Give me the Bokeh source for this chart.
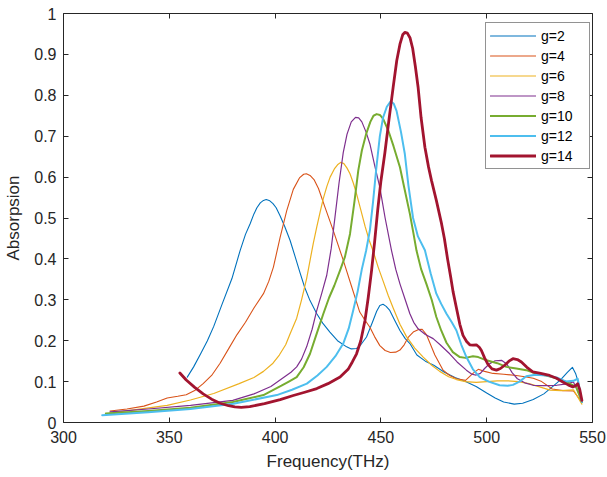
from bokeh.plotting import figure
from bokeh.models import LinearAxis, FixedTicker, Legend, LegendItem, Range1d
from bokeh.embed import file_html
from bokeh.resources import INLINE

# ---------------- data ----------------
x_ticks = [300, 350, 400, 450, 500, 550]
y_ticks = [0, 0.1, 0.2, 0.3, 0.4, 0.5, 0.6, 0.7, 0.8, 0.9, 1.0]
y_tick_labels = ["0", "0.1", "0.2", "0.3", "0.4", "0.5", "0.6", "0.7", "0.8", "0.9", "1"]

series_names = ["g=2", "g=4", "g=6", "g=8", "g=10", "g=12", "g=14"]

f_g2 = [358.5, 361.5, 365, 368, 371, 375, 379.6, 383.5, 386, 388.2, 390, 391.4, 393, 394.5,
        395.8, 397.5, 399, 400.5, 402.4, 404.5, 407.1, 409.5, 411.8, 414, 416.5, 419.7, 422.5,
        425.9, 429.5, 433.8, 436, 438.5, 440.5, 443.2, 446, 448, 449.5, 451, 452.5, 454.2,
        456.5, 459, 461.5, 463.7, 467, 471, 475, 480, 485, 490, 495, 500, 504, 508, 513, 517,
        522, 527, 531, 535, 538, 540.5, 542, 543.5, 545]
a_g2 = [0.111, 0.136, 0.17, 0.2, 0.235, 0.29, 0.352, 0.421, 0.46, 0.486, 0.51, 0.525, 0.537,
        0.543, 0.545, 0.542, 0.535, 0.525, 0.505, 0.48, 0.445, 0.405, 0.366, 0.33, 0.298, 0.266,
        0.243, 0.221, 0.2, 0.185, 0.18, 0.181, 0.19, 0.209, 0.245, 0.272, 0.286, 0.289, 0.284,
        0.274, 0.25, 0.225, 0.205, 0.193, 0.165, 0.15, 0.14, 0.123, 0.11, 0.1, 0.088, 0.072,
        0.06, 0.05, 0.045, 0.047, 0.056, 0.07, 0.087, 0.105, 0.122, 0.135, 0.12, 0.095, 0.05]

f_g4 = [322, 330, 338, 344, 349, 354, 358, 362, 366, 370, 374, 378, 382, 386, 390, 394.5, 397,
        399.2, 402.4, 405.5, 408.6, 411.5, 413.5, 414.8, 416.5, 418.5, 420.5, 423.6, 427.5, 432,
        436, 440, 442.5, 444.8, 447, 449.5, 452, 454.5, 457, 459, 461, 463, 465.5, 467.6, 469.5,
        471.5, 473.5, 475.5, 479.4, 482.5, 485.7, 490, 493.5, 496, 499, 503, 508, 514, 518, 522,
        526, 531, 536, 541, 545]
a_g4 = [0.028, 0.033, 0.04, 0.05, 0.06, 0.064, 0.068, 0.078, 0.095, 0.115, 0.145, 0.18, 0.215,
        0.245, 0.28, 0.315, 0.345, 0.38, 0.453, 0.518, 0.57, 0.598, 0.607, 0.608, 0.604, 0.593,
        0.572, 0.526, 0.469, 0.4, 0.335, 0.27, 0.25, 0.233, 0.21, 0.188, 0.176, 0.171, 0.172,
        0.177, 0.19, 0.209, 0.222, 0.227, 0.228, 0.215, 0.19, 0.165, 0.128, 0.115, 0.107, 0.103,
        0.12, 0.13, 0.125, 0.12, 0.118, 0.115, 0.112, 0.108, 0.1, 0.082, 0.078, 0.077, 0.05]

f_g6 = [322, 335, 349, 360, 371, 383, 390, 394.5, 399, 402, 405, 407.1, 410.2, 412.5, 414.9,
        416.5, 418, 419.7, 421.3, 422.8, 424.5, 426, 428, 429.5, 431, 432.5, 434, 435.4, 437,
        438.5, 440.5, 442.5, 444.5, 446.4, 448.7, 451.1, 453.5, 455.8, 459, 462.1, 466, 470, 474,
        477.8, 482, 485.7, 490, 495, 500, 505, 510, 515, 520, 525, 530, 535, 541, 545]
a_g6 = [0.023, 0.032, 0.042, 0.055, 0.071, 0.095, 0.11, 0.125, 0.145, 0.165, 0.19, 0.217, 0.255,
        0.3, 0.352, 0.396, 0.437, 0.478, 0.515, 0.548, 0.578, 0.6, 0.62, 0.63, 0.636, 0.633,
        0.622, 0.608, 0.585, 0.559, 0.52, 0.48, 0.445, 0.418, 0.38, 0.345, 0.31, 0.28, 0.24,
        0.21, 0.182, 0.16, 0.14, 0.125, 0.112, 0.105, 0.1, 0.098, 0.1, 0.102, 0.102, 0.1, 0.095,
        0.087, 0.079, 0.078, 0.08, 0.045]

f_g8 = [322, 340, 360, 380, 390, 398, 404, 407.5, 410.2, 412.5, 414.9, 417.5, 419.7, 422,
        424.4, 426.5, 428.3, 430.2, 432.2, 434, 436, 438, 439.5, 441, 443, 444.8, 447, 449.5,
        452, 455, 457, 459, 461.5, 463.7, 465.5, 467.6, 471, 474.7, 478, 482.5, 486, 490.4, 493,
        495, 497, 499, 501.4, 504, 507, 509.5, 512, 514.5, 518, 522, 527, 533, 537, 541, 545]
a_g8 = [0.026, 0.033, 0.042, 0.054, 0.07, 0.088, 0.11, 0.123, 0.136, 0.155, 0.185, 0.228, 0.274,
        0.315, 0.36, 0.425, 0.502, 0.585, 0.66, 0.705, 0.735, 0.746, 0.745, 0.735, 0.71, 0.681,
        0.63, 0.575, 0.5, 0.421, 0.375, 0.339, 0.3, 0.266, 0.245, 0.229, 0.215, 0.205, 0.19,
        0.168, 0.148, 0.128, 0.118, 0.116, 0.12, 0.132, 0.144, 0.151, 0.152, 0.143, 0.122, 0.107,
        0.097, 0.091, 0.09, 0.091, 0.094, 0.099, 0.055]

f_g10 = [320, 340, 360, 380, 394.5, 403, 406.5, 410.2, 413.5, 416.5, 419.5, 422.8, 425.5, 428,
         430.7, 433, 435.4, 437.5, 439.3, 441, 443, 445, 446.5, 448, 449.5, 451, 453.5, 456, 459,
         461, 463.7, 465.3, 466.8, 469, 471.5, 474, 476.2, 478.5, 481, 484, 487.3, 490, 493.5,
         496, 499.9, 505, 509.3, 514, 518.7, 523, 528.2, 533, 537.6, 542.3, 545]
a_g10 = [0.022, 0.028, 0.036, 0.05, 0.067, 0.09, 0.1, 0.111, 0.135, 0.168, 0.215, 0.266, 0.305,
         0.335, 0.372, 0.405, 0.461, 0.54, 0.616, 0.665, 0.705, 0.735, 0.75, 0.754, 0.752, 0.743,
         0.714, 0.675, 0.624, 0.575, 0.51, 0.465, 0.421, 0.375, 0.339, 0.3, 0.258, 0.225, 0.195,
         0.172, 0.16, 0.158, 0.162, 0.16, 0.152, 0.145, 0.136, 0.132, 0.128, 0.12, 0.115, 0.108,
         0.099, 0.087, 0.05]

f_g12 = [318.3, 340, 360, 380.3, 400.8, 408, 415, 420, 424.4, 428.5, 432.2, 434.8, 436.9, 439,
         441, 443, 444.8, 446.3, 447.8, 449.5, 451, 452.8, 454.6, 456, 457.4, 459.5, 461.3, 463,
         465.2, 467.5, 470.8, 473.5, 476.2, 478.5, 481, 483.5, 485.7, 488, 490.4, 493.5, 496.7,
         501, 506.1, 510, 512.4, 515.5, 518.7, 523, 528.2, 533, 537.6, 541, 543, 545]
a_g12 = [0.018, 0.025, 0.033, 0.046, 0.067, 0.08, 0.095, 0.115, 0.136, 0.162, 0.193, 0.23, 0.274,
         0.32, 0.375, 0.42, 0.47, 0.54, 0.62, 0.7, 0.745, 0.772, 0.785, 0.78, 0.762, 0.71, 0.657,
         0.58, 0.5, 0.455, 0.421, 0.365, 0.315, 0.29, 0.266, 0.245, 0.225, 0.19, 0.16, 0.13,
         0.111, 0.1, 0.091, 0.09, 0.092, 0.1, 0.113, 0.117, 0.115, 0.11, 0.1, 0.102, 0.107, 0.05]

f_g14 = [355, 358, 362, 366, 370, 374, 378, 381, 384, 388, 395, 402.4, 408.6, 414, 419.7, 425,
         430.7, 434.5, 436.5, 438.5, 440.5, 442.5, 444, 445.6, 447, 448.5, 450, 451.9, 453.8,
         455.8, 457.5, 459, 460.3, 461.3, 462.5, 463.8, 465, 466.3, 467.6, 469, 470.8, 472.5,
         473.9, 476.2, 478.5, 480, 481.5, 483, 484.1, 485.7, 487.3, 488.8, 490.5, 492, 493.5,
         495.1, 496.5, 497.5, 499, 500.6, 502.5, 504.6, 506.5, 508.5, 510.5, 512.4, 514.5, 516.4,
         519, 521.8, 525.5, 529.7, 533, 536, 538.5, 540.7, 542, 543, 544, 545]
a_g14 = [0.121, 0.104, 0.086, 0.07, 0.057, 0.047, 0.041, 0.038, 0.037, 0.039, 0.046, 0.056,
         0.066, 0.074, 0.083, 0.095, 0.111, 0.13, 0.148, 0.168, 0.2, 0.25, 0.305, 0.372, 0.44,
         0.52, 0.59, 0.66, 0.74, 0.82, 0.885, 0.925, 0.948, 0.954, 0.952, 0.94, 0.915, 0.87,
         0.819, 0.745, 0.673, 0.625, 0.592, 0.543, 0.49, 0.45, 0.4, 0.355, 0.32, 0.28, 0.24,
         0.213, 0.198, 0.19, 0.189, 0.19, 0.184, 0.176, 0.158, 0.142, 0.131, 0.128, 0.132, 0.14,
         0.15, 0.156, 0.154, 0.148, 0.135, 0.124, 0.12, 0.115, 0.108, 0.099, 0.092, 0.087, 0.09,
         0.095, 0.08, 0.054]

freqs = [f_g2, f_g4, f_g6, f_g8, f_g10, f_g12, f_g14]
absorb = [a_g2, a_g4, a_g6, a_g8, a_g10, a_g12, a_g14]
colors = ["#0072BD", "#D95319", "#EDB120", "#7E2F8E", "#77AC30", "#4DBEEE", "#A2142F"]
widths = [1.1, 1.1, 1.2, 1.2, 2.0, 2.0, 2.8]

FONT = "Liberation Sans"
AX = "#262626"

p = figure(width=607, height=477, output_backend="svg", toolbar_location=None,
           x_range=Range1d(300, 550), y_range=Range1d(0, 1),
           min_border_left=63, min_border_right=15, min_border_top=13, min_border_bottom=55)
p.grid.visible = False
p.outline_line_color = None
p.background_fill_color = "white"
p.border_fill_color = "white"

renderers = []
for f, a, c, w in zip(freqs, absorb, colors, widths):
    r = p.line(f, a, line_color=c, line_width=w, line_join="round", line_cap="round")
    renderers.append(r)

def style_axis(ax):
    ax.axis_line_color = AX
    ax.axis_line_width = 1
    ax.major_tick_line_color = AX
    ax.major_tick_in = 5
    ax.major_tick_out = 0
    ax.minor_tick_line_color = None
    ax.major_label_text_color = AX
    ax.major_label_text_font = FONT
    ax.major_label_text_font_size = "16px"
    ax.axis_label_text_font = FONT
    ax.axis_label_text_font_size = "17px"
    ax.axis_label_text_font_style = "normal"
    ax.axis_label_text_color = AX

xa = p.xaxis[0]
ya = p.yaxis[0]
style_axis(xa)
style_axis(ya)
xa.ticker = FixedTicker(ticks=x_ticks)
ya.ticker = FixedTicker(ticks=y_ticks)
ya.major_label_overrides = {t: s for t, s in zip(y_ticks, y_tick_labels)}
xa.axis_label = "Frequency(THz)"
ya.axis_label = "Absorpsion"
xa.major_label_standoff = 8
ya.major_label_standoff = 7
xa.axis_label_standoff = 6
ya.axis_label_standoff = 8

top = LinearAxis(ticker=FixedTicker(ticks=x_ticks))
right = LinearAxis(ticker=FixedTicker(ticks=y_ticks))
for ax in (top, right):
    style_axis(ax)
    ax.major_label_text_font_size = "1px"
    ax.major_label_text_alpha = 0
    ax.major_label_standoff = 0
p.add_layout(top, "above")
p.add_layout(right, "right")

items = [LegendItem(label=n, renderers=[r]) for n, r in zip(series_names, renderers)]
legend = Legend(items=items, location=(422, 253))
legend.label_text_font = FONT
legend.label_text_font_size = "14px"
legend.label_text_color = "#000000"
legend.glyph_width = 46
legend.glyph_height = 17
legend.label_height = 17
legend.label_width = 44
legend.label_standoff = 5
legend.spacing = 3
legend.padding = 4
legend.margin = 0
legend.border_line_color = AX
legend.border_line_width = 1
legend.background_fill_color = "white"
legend.background_fill_alpha = 1
p.add_layout(legend, "center")

open("out.html", "w").write(file_html(p, INLINE))
